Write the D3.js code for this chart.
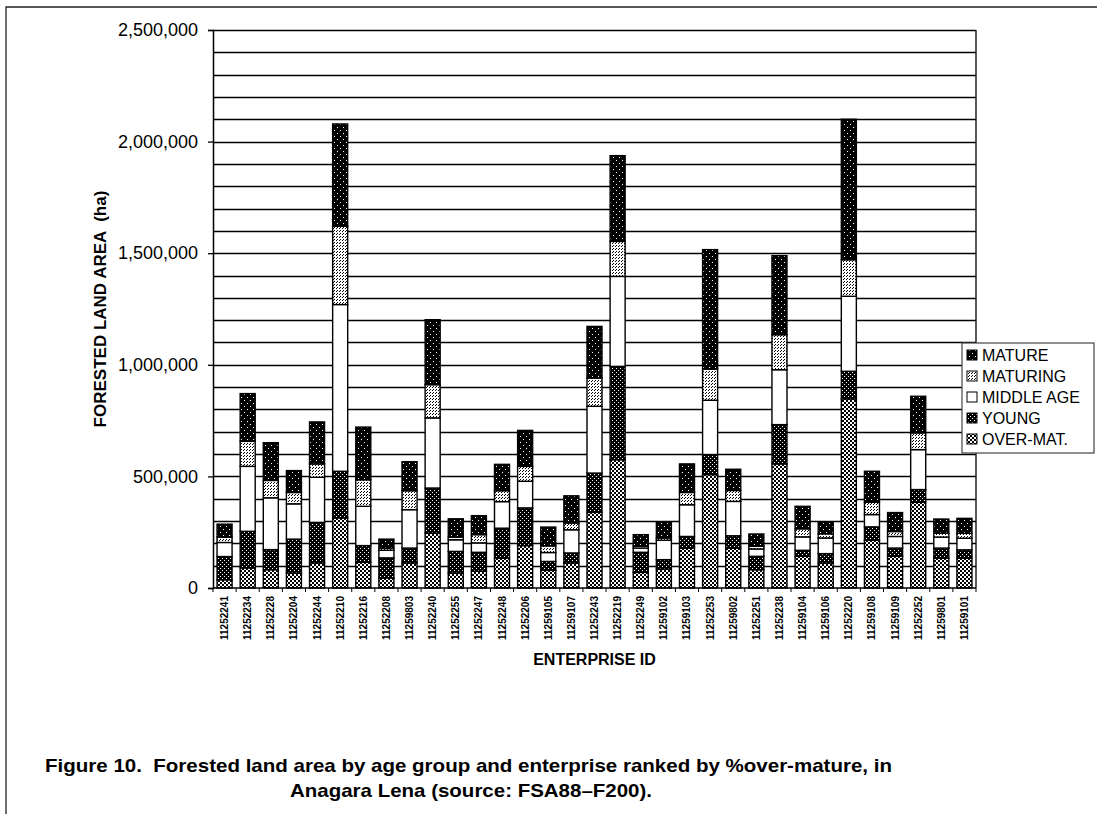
<!DOCTYPE html>
<html>
<head>
<meta charset="utf-8">
<script src="https://cdn.jsdelivr.net/npm/d3@7"></script>
<style>
    body { margin: 0; background: #fff; }
    svg { display: block; font-family: Arial, "Liberation Sans", Helvetica, sans-serif; }
</style>
</head>
<body>
<svg id="chart" width="1097" height="814"></svg>
<script>
// enterprises, in the order of the figure (ranked by % over-mature)
var ENTERPRISES = ["11252241", "11252234", "11252228", "11252204", "11252244", "11252210",
    "11252216", "11252208", "11259803", "11252240", "11252255", "11252247", "11252248",
    "11252206", "11259105", "11259107", "11252243", "11252219", "11252249", "11259102",
    "11259103", "11252253", "11259802", "11252251", "11252238", "11259104", "11259106",
    "11252220", "11259108", "11259109", "11252252", "11259801", "11259101"];

// forested area per age group, thousand ha
var OVER_MAT = [37, 90, 82, 67, 112, 314, 115, 45, 112, 246, 67, 75, 134, 190, 79, 112,
    339, 575, 70, 85, 179, 508, 179, 82, 556, 142, 112, 847, 214, 142, 384, 134, 134];
var YOUNG = [104, 164, 90, 152, 182, 209, 75, 90, 67, 202, 97, 85, 134, 169, 40, 45,
    176, 418, 90, 42, 52, 90, 55, 60, 176, 27, 42, 124, 60, 37, 57, 45, 37];
var MIDDLE_AGE = [63, 291, 232, 158, 202, 747, 176, 34, 172, 314, 52, 42, 119, 119, 40, 104,
    299, 403, 19, 87, 142, 243, 154, 33, 246, 60, 70, 336, 55, 52, 179, 49, 52];
var MATURING = [24, 112, 78, 51, 60, 351, 119, 10, 85, 149, 12, 37, 49, 67, 30, 30,
    127, 157, 8, 10, 55, 140, 49, 12, 157, 36, 19, 164, 55, 22, 75, 18, 22];
var MATURE = [58, 214, 169, 98, 188, 458, 236, 40, 130, 291, 82, 85, 118, 161, 84, 122,
    231, 384, 52, 70, 128, 535, 95, 55, 354, 101, 51, 629, 139, 85, 164, 63, 67];

var SERIES = ["OVER-MAT.", "YOUNG", "MIDDLE AGE", "MATURING", "MATURE"];
var Y_TICKS = [0, 500000, 1000000, 1500000, 2000000, 2500000];

(function () {
    "use strict";
    var svg = d3.select("#chart"),
        left = 213,
        right = 976,
        top = 30,
        bottom = 588,
        defs = svg.append("defs"),
        columns = [OVER_MAT, YOUNG, MIDDLE_AGE, MATURING, MATURE],
        rows,
        stack,
        x,
        y,
        fills = {},
        plot,
        legend;

    /**
     * Tiny bitmap-like fill: a background and some 1px dots.
     */
    function makePattern(id, size, bg, fg, dots) {
        var p = defs.append("pattern")
            .attr("id", id)
            .attr("patternUnits", "userSpaceOnUse")
            .attr("width", size)
            .attr("height", size);
        p.append("rect").attr("width", size).attr("height", size).attr("fill", bg);
        dots.forEach(function (d) {
            p.append("rect")
                .attr("x", d[0]).attr("y", d[1])
                .attr("width", d[2] || 1).attr("height", d[3] || 1)
                .attr("fill", fg);
        });
        return "url(#" + id + ")";
    }

    fills["MATURE"] = makePattern("p-mature", 6, "#000", "#fff", [[1, 1], [4, 4]]);
    fills["MATURING"] = makePattern("p-maturing", 3, "#fff", "#000", [[0, 0], [1, 2]]);
    fills["MIDDLE AGE"] = "#fff";
    fills["YOUNG"] = makePattern("p-young", 4, "#000", "#fff", [[0, 0], [2, 2]]);
    fills["OVER-MAT."] = makePattern("p-overmat", 4, "#000", "#fff", [[0, 0, 2, 2], [2, 2, 2, 2]]);

    // one row per enterprise, values in ha
    rows = ENTERPRISES.map(function (id, i) {
        var r = {id: id};
        SERIES.forEach(function (s, j) {
            r[s] = columns[j][i] * 1000;
        });
        return r;
    });
    stack = d3.stack().keys(SERIES)(rows);

    x = d3.scaleBand().domain(ENTERPRISES).range([left, right]).paddingInner(0.35).paddingOuter(0.175);
    y = d3.scaleLinear().domain([0, 2500000]).range([bottom, top]);

    // outer frame of the scanned page
    svg.append("path")
        .attr("d", "M6,814 V7 H1097")
        .attr("fill", "none")
        .attr("stroke", "#222")
        .attr("stroke-width", 1.3);

    // gridlines every 100,000 ha
    svg.append("g")
        .selectAll("line")
        .data(d3.range(100000, 2500001, 100000))
        .join("line")
        .attr("x1", left).attr("x2", right)
        .attr("y1", function (d) { return Math.round(y(d)) + 0.5; })
        .attr("y2", function (d) { return Math.round(y(d)) + 0.5; })
        .attr("stroke", "#000")
        .attr("stroke-width", 1.3);

    // right border of plot area
    svg.append("line")
        .attr("x1", right).attr("x2", right)
        .attr("y1", top).attr("y2", bottom)
        .attr("stroke", "#000").attr("stroke-width", 1.3);

    plot = svg.append("g");
    plot.selectAll("g")
        .data(stack)
        .join("g")
        .attr("fill", function (d) { return fills[d.key]; })
        .selectAll("rect")
        .data(function (d) { return d; })
        .join("rect")
        .attr("x", function (d) { return x(d.data.id); })
        .attr("width", x.bandwidth())
        .attr("y", function (d) { return y(d[1]); })
        .attr("height", function (d) { return y(d[0]) - y(d[1]); })
        .attr("stroke", "#000")
        .attr("stroke-width", 1.4);

    // y axis
    svg.append("g")
        .attr("transform", "translate(" + left + ",0)")
        .call(d3.axisLeft(y).tickValues(Y_TICKS).tickFormat(d3.format(",")).tickSize(5).tickPadding(10))
        .call(function (g) {
            g.select(".domain").attr("stroke", "#000").attr("stroke-width", 1.5);
            g.selectAll(".tick line").attr("stroke", "#000").attr("stroke-width", 1.3);
            g.selectAll("text").attr("font-size", 18).attr("fill", "#000")
                .attr("font-family", "Arial, 'Liberation Sans', sans-serif");
        });

    // x axis: ticks between categories, rotated ids
    svg.append("line")
        .attr("x1", left).attr("x2", right)
        .attr("y1", bottom).attr("y2", bottom)
        .attr("stroke", "#000").attr("stroke-width", 1.5);
    svg.append("g")
        .selectAll("line")
        .data(d3.range(ENTERPRISES.length + 1))
        .join("line")
        .attr("x1", function (i) { return left + i * x.step(); })
        .attr("x2", function (i) { return left + i * x.step(); })
        .attr("y1", bottom).attr("y2", bottom + 4)
        .attr("stroke", "#000");
    svg.append("g")
        .selectAll("text")
        .data(ENTERPRISES)
        .join("text")
        .attr("transform", function (d) {
            return "translate(" + (x(d) + x.bandwidth() / 2 + 3.5) + "," + (bottom + 8) + ") rotate(-90)";
        })
        .attr("text-anchor", "end")
        .attr("font-size", 10)
        .attr("font-weight", "bold")
        .text(function (d) { return d; });

    // axis titles
    svg.append("text")
        .attr("transform", "translate(106,309) rotate(-90)")
        .attr("text-anchor", "middle")
        .attr("font-size", 17)
        .attr("font-weight", "bold")
        .style("white-space", "pre")
        .text("FORESTED LAND AREA  (ha)");
    svg.append("text")
        .attr("x", (left + right) / 2).attr("y", 665)
        .attr("text-anchor", "middle")
        .attr("font-size", 16)
        .attr("font-weight", "bold")
        .text("ENTERPRISE ID");

    // legend
    legend = svg.append("g").attr("transform", "translate(962,343)");
    legend.append("rect")
        .attr("width", 132).attr("height", 110)
        .attr("fill", "#fff")
        .attr("stroke", "#444")
        .attr("stroke-width", 1.2);
    legend.selectAll("g")
        .data(SERIES.slice().reverse())
        .join("g")
        .attr("transform", function (d, i) { return "translate(0," + (18 + i * 21) + ")"; })
        .each(function (d) {
            var g = d3.select(this);
            g.append("rect")
                .attr("x", 5).attr("y", -11)
                .attr("width", 10).attr("height", 10)
                .attr("fill", fills[d])
                .attr("stroke", "#000");
            g.append("text")
                .attr("x", 20).attr("y", 0)
                .attr("font-size", 16)
                .text(d);
        });

    // caption, stretched to the width of the scanned type
    svg.append("text")
        .attr("x", 45).attr("y", 772)
        .attr("font-size", 19)
        .attr("font-weight", "bold")
        .attr("textLength", 847)
        .attr("lengthAdjust", "spacingAndGlyphs")
        .style("white-space", "pre")
        .text("Figure 10.  Forested land area by age group and enterprise ranked by %over-mature, in");
    svg.append("text")
        .attr("x", 290).attr("y", 797)
        .attr("font-size", 19)
        .attr("font-weight", "bold")
        .attr("textLength", 362)
        .attr("lengthAdjust", "spacingAndGlyphs")
        .text("Anagara Lena (source: FSA88\u2013F200).");
}());
</script>
</body>
</html>
